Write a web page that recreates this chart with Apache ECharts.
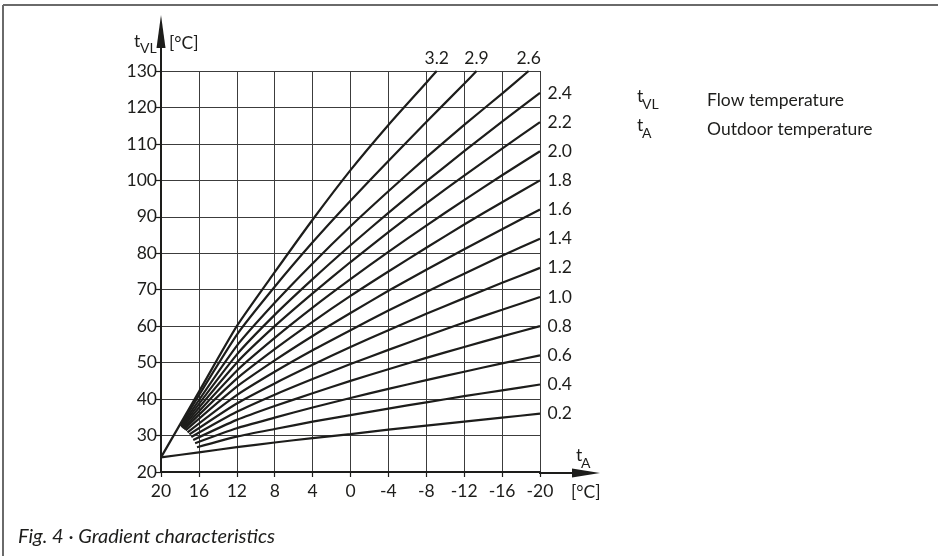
<!DOCTYPE html>
<html>
<head>
<meta charset="utf-8">
<script src="https://cdn.jsdelivr.net/npm/echarts@6/dist/echarts.min.js"></script>
<style>
html, body { margin: 0; padding: 0; background: #fff; }
#chart { width: 938px; height: 556px; }
</style>
</head>
<body>
<div id="chart"></div>
<script>
// outdoor temperature ticks (x) and flow temperature ticks (y)
const outdoorTicks = [20, 16, 12, 8, 4, 0, -4, -8, -12, -16, -20];
const flowTicks = [20, 30, 40, 50, 60, 70, 80, 90, 100, 110, 120, 130];

// gradient curves, [tA, tVL] read from the sheet
const curve02 = [[20, 24], [16, 25.4], [12, 26.8], [8, 28.1], [4, 29.3], [0, 30.4], [-4, 31.6], [-8, 32.7], [-12, 33.8], [-16, 34.9], [-20, 36]];
const curve04 = [[16.2, 26.8], [12, 29.7], [8, 31.8], [4, 33.8], [0, 35.6], [-4, 37.4], [-8, 39.1], [-12, 40.8], [-16, 42.4], [-20, 44]];
const curve06 = [[16.4, 27.9], [12, 32.0], [8, 34.9], [4, 37.7], [0, 40.3], [-4, 42.8], [-8, 45.2], [-12, 47.5], [-16, 49.8], [-20, 52]];
const curve08 = [[16.6, 28.8], [12, 34.3], [8, 38.1], [4, 41.6], [0, 45.0], [-4, 48.2], [-8, 51.3], [-12, 54.3], [-16, 57.2], [-20, 60]];
const curve10 = [[16.8, 29.6], [12, 36.5], [8, 41.2], [4, 45.5], [0, 49.6], [-4, 53.5], [-8, 57.3], [-12, 61.0], [-16, 64.5], [-20, 68]];
const curve12 = [[17.0, 30.3], [12, 38.8], [8, 44.3], [4, 49.4], [0, 54.3], [-4, 58.9], [-8, 63.4], [-12, 67.7], [-16, 71.9], [-20, 76]];
const curve14 = [[17.2, 30.9], [12, 41.1], [8, 47.5], [4, 53.4], [0, 58.9], [-4, 64.3], [-8, 69.4], [-12, 74.4], [-16, 79.3], [-20, 84]];
const curve16 = [[17.4, 31.4], [12, 43.4], [8, 50.6], [4, 57.3], [0, 63.6], [-4, 69.7], [-8, 75.5], [-12, 81.1], [-16, 86.6], [-20, 92]];
const curve18 = [[17.55, 31.7], [12, 45.6], [8, 53.7], [4, 61.2], [0, 68.3], [-4, 75.0], [-8, 81.5], [-12, 87.9], [-16, 94.0], [-20, 100]];
const curve20 = [[17.65, 31.9], [12, 47.8], [8, 56.8], [4, 65.1], [0, 72.9], [-4, 80.4], [-8, 87.6], [-12, 94.6], [-16, 101.4], [-20, 108]];
const curve22 = [[17.75, 32.1], [12, 50.0], [8, 60.0], [4, 69.0], [0, 77.6], [-4, 85.8], [-8, 93.7], [-12, 101.3], [-16, 108.7], [-20, 116]];
const curve24 = [[17.82, 32.3], [12, 52.2], [8, 63.1], [4, 72.9], [0, 82.2], [-4, 91.1], [-8, 99.7], [-12, 108.0], [-16, 116.1], [-20, 124]];
const curve26 = [[17.88, 32.5], [12, 54.6], [8, 66.4], [4, 77.2], [0, 87.4], [-4, 97.0], [-8, 106.3], [-12, 115.2], [-16, 123.8], [-18.8, 130]];
const curve29 = [[17.94, 32.7], [12, 57.6], [8, 70.8], [4, 83.0], [0, 94.4], [-4, 105.3], [-8, 116.0], [-12, 126.5], [-13.3, 130]];
const curve32 = [[20, 24], [16, 42], [12, 60], [8, 74.8], [4, 89.2], [0, 102.8], [-4, 115.2], [-8, 126.8], [-9.1, 130]];

const gradientNames = ['0.2', '0.4', '0.6', '0.8', '1.0', '1.2', '1.4', '1.6', '1.8', '2.0', '2.2', '2.4', '2.6', '2.9', '3.2'];
const gradientCurves = [curve02, curve04, curve06, curve08, curve10, curve12, curve14, curve16, curve18, curve20, curve22, curve24, curve26, curve29, curve32];

const FONT = 'Lato, "Noto Sans", sans-serif';
const INK = '#1d1d1b';
const FS = 17.5;

const chart = echarts.init(document.getElementById('chart'));

const series = gradientCurves.map((data, i) => {
  const name = gradientNames[i];
  const onTop = data[data.length - 1][1] >= 130;
  return {
    name: name,
    type: 'line',
    data: data,
    smooth: 0.2,
    showSymbol: false,
    silent: true,
    lineStyle: { color: INK, width: 2.2 },
    markPoint: {
      symbol: 'circle',
      symbolSize: 1,
      itemStyle: { color: 'rgba(0,0,0,0)' },
      label: {
        show: true,
        formatter: name,
        position: onTop ? 'top' : 'right',
        distance: onTop ? 3 : 7,
        color: INK,
        fontFamily: FONT,
        fontSize: FS
      },
      data: [{ coord: data[data.length - 1] }]
    }
  };
});

function txt(x, y, text, size, extra) {
  return {
    type: 'text', x: x, y: y, silent: true,
    style: Object.assign({
      text: text, fill: INK, font: size + 'px ' + FONT,
      textAlign: 'left', textVerticalAlign: 'middle'
    }, extra || {})
  };
}

const option = {
  animation: false,
  backgroundColor: '#fff',
  grid: { left: 161, right: 398, top: 71, bottom: 84 },
  xAxis: {
    type: 'value',
    min: -20, max: 20, interval: 4,
    inverse: true,
    axisLine: { onZero: false, lineStyle: { color: INK, width: 2 } },
    axisTick: { show: true, length: 5, lineStyle: { color: INK, width: 1.2 } },
    axisLabel: { color: INK, fontFamily: FONT, fontSize: FS, margin: 10 },
    splitLine: { show: true, lineStyle: { color: '#3c3c3c', width: 1 } }
  },
  yAxis: {
    type: 'value',
    min: 20, max: 130, interval: 10,
    axisLine: { onZero: false, lineStyle: { color: INK, width: 2 } },
    axisTick: { show: true, length: 5, lineStyle: { color: INK, width: 1.2 } },
    axisLabel: { color: INK, fontFamily: FONT, fontSize: FS, margin: 4 },
    splitLine: { show: true, lineStyle: { color: '#3c3c3c', width: 1 } }
  },
  series: series,
  graphic: [
    // frame
    { type: 'line', silent: true, shape: { x1: 3, y1: 5, x2: 938, y2: 5 }, style: { stroke: '#6a6a6a', lineWidth: 2 } },
    { type: 'line', silent: true, shape: { x1: 3, y1: 5, x2: 3, y2: 556 }, style: { stroke: '#6a6a6a', lineWidth: 2 } },
    // axis arrows
    { type: 'line', silent: true, shape: { x1: 161, y1: 72, x2: 161, y2: 46 }, style: { stroke: INK, lineWidth: 2 } },
    { type: 'polygon', silent: true, shape: { points: [[156.5, 48], [165.5, 48], [161, 15]] }, style: { fill: INK } },
    { type: 'line', silent: true, shape: { x1: 539, y1: 473, x2: 574, y2: 473 }, style: { stroke: INK, lineWidth: 2 } },
    { type: 'polygon', silent: true, shape: { points: [[572, 468.5], [572, 477.5], [600, 473]] }, style: { fill: INK } },
    // axis names
    txt(134, 41, 't', FS),
    txt(140, 48, 'VL', 14),
    txt(169, 43, '[°C]', FS),
    txt(576, 455, 't', FS),
    txt(581, 463, 'A', 14),
    txt(571, 492, '[°C]', FS),
    // key
    txt(637, 96, 't', FS),
    txt(642, 104, 'VL', 14),
    txt(707, 100, 'Flow temperature', FS),
    txt(637, 125, 't', FS),
    txt(642, 133, 'A', 14),
    txt(707, 129, 'Outdoor temperature', FS),
    // caption
    txt(18, 537, 'Fig. 4 · Gradient characteristics', 20, { font: 'italic 20px ' + FONT })
  ]
};

chart.setOption(option);
</script>
</body>
</html>
